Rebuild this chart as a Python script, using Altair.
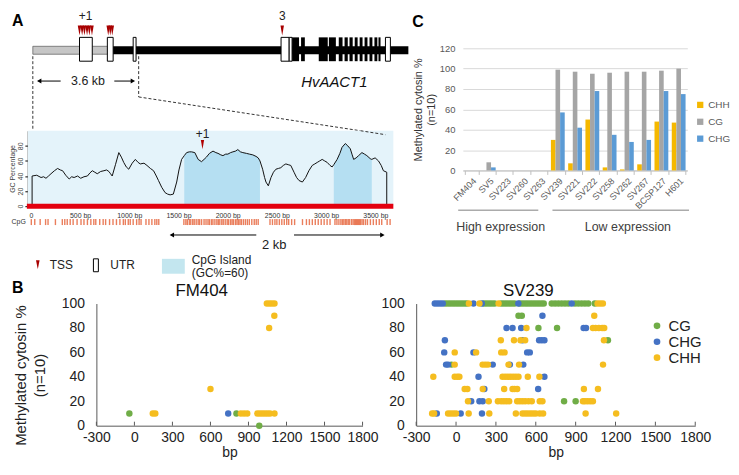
import altair as alt
import pandas as pd

FONT = "Liberation Sans"
one = pd.DataFrame({"k": [0]})

# ---------------- Panel A data ----------------
gene_upstream = [0.0, 2.6]      # kb, grey upstream region
gene_body = [2.6, 12.95]        # kb
utr_start = [1.61, 2.57, 3.46, 8.56, 8.84, 12.16]
utr_end = [2.05, 2.77, 3.56, 8.84, 8.94, 12.33]
cds_start = [8.94, 9.25, 9.86, 10.21, 10.55, 10.75, 10.92, 11.10, 11.27, 11.44, 11.61, 11.78, 11.92]
cds_end = [9.18, 9.38, 10.17, 10.45, 10.68, 10.86, 11.03, 11.20, 11.37, 11.54, 11.71, 11.88, 11.99]
tss_kb = [1.61, 1.70, 1.78, 1.87, 1.95, 2.04, 2.60, 2.67, 2.74, 8.60]
tss_labels = ["+1", "3"]
tss_label_kb = [1.82, 8.60]
zoom_region_kb = [0.0, 3.65]

gc_profile = [(13, 0), (13, 40), (60, 41), (104, 38), (130, 39), (154, 37), (180, 40), (205, 43),
              (240, 47), (272, 50), (300, 48), (323, 47), (355, 41), (390, 36), (415, 39),
              (440, 38), (475, 40), (507, 37), (540, 39), (575, 40), (600, 44), (625, 47),
              (650, 45), (675, 43), (710, 46), (743, 47), (770, 48), (793, 46), (810, 43),
              (827, 40), (860, 55), (894, 71), (920, 65), (944, 58), (970, 52), (995, 49),
              (1030, 57), (1062, 62), (1090, 58), (1112, 56), (1150, 57), (1180, 54),
              (1215, 50), (1247, 47), (1275, 40), (1297, 34), (1330, 25), (1364, 18), (1390, 16),
              (1415, 15), (1448, 16), (1482, 32), (1505, 48), (1532, 62), (1559, 67),
              (1583, 71), (1610, 72), (1633, 72), (1666, 71), (1700, 62), (1734, 59), (1760, 62),
              (1784, 65), (1815, 70), (1851, 73), (1880, 71), (1902, 70), (1930, 68), (1952, 67),
              (1980, 69), (2002, 69), (2030, 71), (2053, 72), (2080, 73), (2103, 75), (2130, 72),
              (2154, 71), (2190, 70), (2221, 69), (2255, 68), (2288, 66), (2310, 64), (2328, 60),
              (2355, 49), (2375, 38), (2389, 32), (2413, 27), (2440, 38), (2465, 45), (2490, 49),
              (2515, 50), (2540, 51), (2565, 54), (2591, 56), (2615, 55), (2641, 54), (2674, 45),
              (2700, 38), (2725, 34), (2759, 32), (2792, 38), (2825, 47), (2859, 54), (2885, 56),
              (2910, 58), (2935, 60), (2960, 62), (2985, 60), (3011, 58), (3040, 54), (3061, 52),
              (3078, 55), (3112, 62), (3140, 70), (3162, 78), (3195, 83), (3220, 80), (3246, 76),
              (3265, 68), (3280, 62), (3305, 64), (3330, 67), (3364, 71), (3390, 69), (3414, 67),
              (3448, 63), (3464, 62), (3498, 64), (3532, 60), (3560, 54), (3582, 47), (3616, 45),
              (3616, 0)]
cpg_islands = [(1559, 2328), (3078, 3464)]
gc_xticks = [0, 500, 1000, 1500, 2000, 2500, 3000, 3500]
gc_yticks = [0, 20, 40, 60, 80]
tss_plus1_bp = [1744]
cpg_sites = [5, 40, 95, 150, 175, 250, 320, 345, 370, 400, 430, 470, 510, 540, 575, 610, 640, 660,
             700, 735, 760, 800, 835, 870, 905, 940, 960, 990, 1010, 1040, 1075, 1100, 1120, 1170,
             1200, 1230, 1260, 1280, 1300, 1555, 1575, 1590, 1610, 1625, 1645, 1660, 1680, 1700,
             1715, 1735, 1760, 1780, 1800, 1815, 1835, 1850, 1870, 1890, 1905, 1920, 1940, 1955,
             1975, 1995, 2010, 2030, 2045, 2060, 2080, 2095, 2110, 2125, 2140, 2160, 2180, 2200,
             2220, 2245, 2270, 2290, 2310, 2430, 2455, 2480, 2500, 2525, 2550, 2575, 2600, 2620,
             2650, 2680, 2760, 2800, 2830, 2860, 2890, 2920, 2950, 2980, 3010, 3040, 3090, 3110,
             3130, 3150, 3165, 3180, 3195, 3210, 3225, 3240, 3260, 3275, 3290, 3300, 3310, 3320,
             3330, 3340, 3350, 3365, 3380, 3400, 3420, 3450, 3480, 3510, 3540, 3565, 3620, 3650]

# ---------------- Panel C data ----------------
lines = ["FM404", "SV5", "SV223", "SV260", "SV263", "SV239", "SV221", "SV222", "SV258",
         "SV262", "SV267", "BCSP127", "H601"]
chh_pct = [0, 0, 0, 0, 0, 30, 7, 50, 3, 1, 6, 48, 47]
cg_pct = [0, 8, 0, 0, 0, 99, 97, 95, 96, 97, 97, 98, 100]
chg_pct = [0, 3, 0, 0, 0, 57, 42, 78, 35, 28, 30, 78, 75]
c_contexts = ["CHH", "CG", "CHG"]
c_colors = ["#f5b800", "#a5a5a5", "#5b9bd5"]
c_yticks = [0, 20, 40, 60, 80, 100, 120]
groups = ["High expression", "Low expression"]
group_x0 = [-0.77, 4.69]
group_x1 = [3.87, 12.6]
group_label_x = [1.69, 9.06]

# ---------------- Panel B data ----------------
b_contexts = ["CG", "CHG", "CHH"]
b_colors = ["#70ad47", "#4472c4", "#f5bd1f"]
b_xticks = [-300, 0, 300, 600, 900, 1200, 1500, 1800]
b_yticks = [0, 20, 40, 60, 80, 100]

fm404_cg = {10: [-40, 805], 0: [985]}
fm404_chg = {10: [740]}
fm404_chh = {10: [145, 165, 840, 865, 890, 970, 990, 1010, 1030, 1050, 1070, 1105],
             30: [600], 80: [1063], 90: [1104], 100: [1045, 1065, 1085, 1105]}

sv239_cg = {100: [-80, -60, -40, -20, 0, 20, 40, 60, 80, 210, 230, 250, 270, 290, 340, 360, 380,
                  400, 420, 440, 480, 500, 520, 540, 560, 580, 600, 620, 640, 660, 720, 745, 770,
                  795, 820, 845, 895, 920, 945, 970, 995, 1044],
            90: [470, 495], 80: [620, 760], 70: [1143], 50: [-35], 20: [813, 900]}
sv239_chg = {100: [-160, -140, -120, -100, 131, 194, 469, 870], 90: [650],
             80: [380, 425, 490, 960, 978], 70: [-84, 500, 625, 645, 665],
             60: [-89, 131, 535, 555], 50: [-75, -60, 276, 405, 506], 40: [169, 665],
             30: [213, 618], 20: [114, 176, 201], 10: [-145, 35, 195]}
sv239_chh = {100: [97, 176, 320, 1065, 1085, 1105], 90: [1040],
             80: [530, 1030, 1050, 1075, 1100, 1115], 70: [337, 436, 485, 520, 1113],
             60: [-10, 151, 340, 365], 50: [-10, 200, 220, 240, 395, 474, 1106],
             40: [-171, -10, 10, 25, 350, 370, 390, 410, 430, 450, 470, 540, 627],
             30: [65, 85, 201, 362, 425, 440, 460, 962, 1068],
             20: [90, 246, 315, 340, 360, 380, 400, 460, 480, 500, 520, 545, 570, 630, 650, 955,
                  970, 990, 1010, 1030],
             10: [-180, -165, -60, -40, -20, 0, 95, 250, 450, 500, 520, 540, 560, 580, 600, 630,
                  655, 975, 1205]}


def anchor(x, y):
    # invisible layout anchor so that nested concat bounds are predictable
    return alt.Chart(one).mark_rule(opacity=0, strokeOpacity=0).encode(
        x=alt.value(x), y=alt.value(y), y2=alt.value(y + 2))


# =============== Panel A : gene model ===============
W_A = 385
kb_scale = alt.Scale(domain=[-0.171, 13.014], nice=False, zero=False)


def kbx(f):
    return alt.X(f, type="quantitative", scale=kb_scale, axis=None)


def kbd(v):
    return alt.XDatum(v, type="quantitative", scale=kb_scale, axis=None)


TRI = "M-0.35,-1L0.35,-1L0,1Z"
DARKRED = "#a80000"

up_df = pd.DataFrame({"s": [gene_upstream[0]], "e": [gene_upstream[1]]})
body_df = pd.DataFrame({"s": [gene_body[0]], "e": [gene_body[1]]})
utr_df = pd.DataFrame({"s": utr_start, "e": utr_end})
cds_df = pd.DataFrame({"s": cds_start, "e": cds_end})
tss_df = pd.DataFrame({"kb": tss_kb})
tlab_df = pd.DataFrame({"kb": tss_label_kb, "t": tss_labels})

g_body = alt.Chart(body_df).mark_rect(fill="black").encode(
    x=kbx("s"), x2="e", y=alt.value(35), y2=alt.value(43))
g_up = alt.Chart(up_df).mark_rect(fill="#c6c6c6", stroke="#555", strokeWidth=0.7).encode(
    x=kbx("s"), x2="e", y=alt.value(35), y2=alt.value(43))
g_cds = alt.Chart(cds_df).mark_rect(fill="black").encode(
    x=kbx("s"), x2="e", y=alt.value(26), y2=alt.value(50))
g_utr = alt.Chart(utr_df).mark_rect(fill="white", stroke="black", strokeWidth=1).encode(
    x=kbx("s"), x2="e", y=alt.value(26), y2=alt.value(50))
g_tss = alt.Chart(tss_df).mark_point(shape=TRI, size=100, filled=True, color=DARKRED,
                                     opacity=1).encode(x=kbx("kb"), y=alt.value(19))
g_tlab = alt.Chart(tlab_df).mark_text(fontSize=12, baseline="middle", color="#222").encode(
    x=kbx("kb"), y=alt.value(5), text="t:N")
g_arr = alt.layer(
    alt.Chart(one).mark_rule(color="black", strokeWidth=1).encode(
        x=kbd(0.2), x2=alt.X2Datum(0.96), y=alt.value(70)),
    alt.Chart(one).mark_rule(color="black", strokeWidth=1).encode(
        x=kbd(2.81), x2=alt.X2Datum(3.45), y=alt.value(70)),
    alt.Chart(one).mark_point(shape="triangle-left", size=26, filled=True, color="black",
                              opacity=1).encode(x=kbd(0.22), y=alt.value(70)),
    alt.Chart(one).mark_point(shape="triangle-right", size=26, filled=True, color="black",
                              opacity=1).encode(x=kbd(3.45), y=alt.value(70)),
    alt.Chart(one).mark_text(fontSize=12.5, baseline="middle", color="#222").encode(
        x=kbd(1.9), y=alt.value(70), text=alt.value("3.6 kb")),
    alt.Chart(one).mark_text(fontSize=15, fontStyle="italic", baseline="middle",
                             color="#111").encode(
        x=kbd(10.4), y=alt.value(71), text=alt.value("HvAACT1")),
)
g_dash = alt.layer(
    alt.Chart(one).mark_rule(color="#333", strokeDash=[3, 2], strokeWidth=1).encode(
        x=kbd(zoom_region_kb[0]), y=alt.value(45), y2=alt.value(120)),
    alt.Chart(one).mark_rule(color="#333", strokeDash=[3, 2], strokeWidth=1).encode(
        x=kbd(zoom_region_kb[1]), y=alt.value(45), y2=alt.value(86)),
    alt.Chart(one).mark_rule(color="#333", strokeDash=[3, 2], strokeWidth=1).encode(
        x=kbd(zoom_region_kb[1]), x2=alt.X2Datum(11.29), y=alt.value(86), y2=alt.value(120)),
)
g_letter = alt.Chart(one).mark_text(fontSize=16, fontWeight="bold", align="left",
                                    baseline="alphabetic", color="black").encode(
    x=alt.value(-16), y=alt.value(15), text=alt.value("A"))

geneA = alt.layer(anchor(-18, -2), g_dash, g_body, g_up, g_cds, g_utr, g_tss, g_tlab, g_arr,
                  g_letter).properties(width=W_A, height=120)

# =============== Panel A : GC profile ===============
W_GC, H_GC = 368, 76
bp_scale = alt.Scale(domain=[-30, 3683], nice=False, zero=False)
gc_scale = alt.Scale(domain=[0, 100], nice=False, zero=True)
bp_axis = alt.Axis(values=gc_xticks, labelExpr="datum.value == 0 ? '0' : datum.value + ' bp'",
                   domain=False, ticks=False, grid=False, labelFontSize=7, labelColor="#333",
                   labelPadding=5, labelFlush=False, labelOverlap=False, title=None)
gc_axis = alt.Axis(values=gc_yticks, title="GC Percentage", titleFontSize=7,
                   titleFontWeight="normal", titleColor="#444", titlePadding=1,
                   labelFontSize=7, labelColor="#444", labelAngle=-90, labelAlign="center",
                   labelBaseline="bottom", labelPadding=1, tickSize=3, tickColor="black",
                   domainColor="black", domainWidth=1.2, grid=False, labelFlush=False,
                   labelOverlap=False)


def bpx(f):
    return alt.X(f, type="quantitative", scale=bp_scale, axis=bp_axis)


def gcy(f):
    return alt.Y(f, type="quantitative", scale=gc_scale, axis=gc_axis)


gc_df = pd.DataFrame(gc_profile, columns=["bp", "gc"])

gc_bg = alt.Chart(one).mark_rect(color="#e4f3fa").encode(
    x=alt.value(0), x2=alt.value(W_GC), y=alt.value(0), y2=alt.value(H_GC))
island_layers = []
for s, e in cpg_islands:
    idf = pd.DataFrame([(bp, gc) for bp, gc in gc_profile if s <= bp <= e and gc > 0],
                       columns=["bp", "gc"])
    island_layers.append(alt.Chart(idf).mark_area(color="#b5dff2", opacity=1).encode(
        x=bpx("bp"), y=gcy("gc"), y2=alt.value(H_GC)))
gc_line = alt.Chart(gc_df).mark_line(color="#111", strokeWidth=1).encode(
    x=bpx("bp"), y=gcy("gc"), order=alt.value(0))
gc_red = alt.Chart(one).mark_rule(color="#e3000f", strokeWidth=5).encode(
    x=alt.value(-1), x2=alt.value(W_GC), y=alt.value(H_GC))
p1_df = pd.DataFrame({"bp": tss_plus1_bp, "t": ["+1"]})
gc_tss = alt.Chart(p1_df).mark_point(shape=TRI, size=90, filled=True, color="#b00000",
                                     opacity=1).encode(x=bpx("bp"), y=alt.value(14))
gc_tlab = alt.Chart(p1_df).mark_text(fontSize=12, baseline="middle", color="#222").encode(
    x=bpx("bp"), y=alt.value(3), text="t:N")
gc_dash = alt.Chart(one).mark_rule(color="#333", strokeDash=[3, 2], strokeWidth=1).encode(
    x=alt.XDatum(3350, type="quantitative", scale=bp_scale, axis=bp_axis),
    x2=alt.X2Datum(3602), y=alt.value(0), y2=alt.value(4))

gcv = alt.layer(gc_bg, *island_layers, gc_line, gc_red, gc_tss, gc_tlab, gc_dash).properties(
    width=W_GC, height=H_GC)

# CpG track
cpg_df = pd.DataFrame({"bp": cpg_sites})
cpg_ticks = alt.Chart(cpg_df).mark_rule(color="#e8704a", strokeWidth=1.4, opacity=0.9).encode(
    x=alt.X("bp:Q", scale=bp_scale, axis=None), y=alt.value(13), y2=alt.value(19))
cpg_lab = alt.Chart(one).mark_text(fontSize=7, align="right", baseline="middle",
                                   color="#333").encode(
    x=alt.value(-2), y=alt.value(16), text=alt.value("CpG"))
cpgv = alt.layer(cpg_ticks, cpg_lab).properties(width=W_GC, height=22)

# 2 kb arrow + legend
legA = alt.layer(
    alt.Chart(one).mark_rule(color="black").encode(x=alt.value(144), x2=alt.value(230), y=alt.value(7)),
    alt.Chart(one).mark_rule(color="black").encode(x=alt.value(268), x2=alt.value(357), y=alt.value(7)),
    alt.Chart(one).mark_point(shape="triangle-left", size=26, filled=True, color="black",
                              opacity=1).encode(x=alt.value(145), y=alt.value(7)),
    alt.Chart(one).mark_point(shape="triangle-right", size=26, filled=True, color="black",
                              opacity=1).encode(x=alt.value(357), y=alt.value(7)),
    alt.Chart(one).mark_text(fontSize=13, baseline="middle", color="#222").encode(
        x=alt.value(248), y=alt.value(17), text=alt.value("2 kb")),
    alt.Chart(one).mark_point(shape="M-0.4,-1L0.4,-1L0,1Z", size=81, filled=True,
                              color=DARKRED, opacity=1).encode(x=alt.value(10), y=alt.value(37)),
    alt.Chart(one).mark_text(fontSize=12, align="left", baseline="middle", color="#222").encode(
        x=alt.value(22), y=alt.value(37), text=alt.value("TSS")),
    alt.Chart(one).mark_rect(fill="white", stroke="black", strokeWidth=1).encode(
        x=alt.value(66), x2=alt.value(71), y=alt.value(31), y2=alt.value(44)),
    alt.Chart(one).mark_text(fontSize=12, align="left", baseline="middle", color="#222").encode(
        x=alt.value(83), y=alt.value(37), text=alt.value("UTR")),
    alt.Chart(one).mark_rect(fill="#c3e6ef").encode(
        x=alt.value(135), x2=alt.value(158), y=alt.value(31), y2=alt.value(46)),
    alt.Chart(one).mark_text(fontSize=12, align="left", baseline="middle", color="#222").encode(
        x=alt.value(165), y=alt.value(32), text=alt.value("CpG Island")),
    alt.Chart(one).mark_text(fontSize=12, align="left", baseline="middle", color="#222").encode(
        x=alt.value(165), y=alt.value(45), text=alt.value("(GC%=60)")),
).properties(width=W_GC, height=51)

colA = alt.vconcat(geneA, gcv, cpgv, legA, spacing=0, bounds="flush")

# =============== Panel C ===============
W_C = 226
c_rows = []
for i, ln in enumerate(lines):
    c_rows.append({"line": ln, "ctx": "CHH", "pct": chh_pct[i]})
    c_rows.append({"line": ln, "ctx": "CG", "pct": cg_pct[i]})
    c_rows.append({"line": ln, "ctx": "CHG", "pct": chg_pct[i]})
c_df = pd.DataFrame(c_rows)

cbar = alt.Chart(c_df).mark_bar().encode(
    x=alt.X("line:N", sort=lines,
            scale=alt.Scale(paddingInner=0.2, paddingOuter=0.1),
            axis=alt.Axis(title=None, labelAngle=-45, labelFontSize=9, labelColor="#595959",
                          domainColor="#bfbfbf", tickColor="#bfbfbf", tickSize=4,
                          tickBand="extent", labelPadding=2)),
    xOffset=alt.XOffset("ctx:N", sort=c_contexts, scale=alt.Scale(domain=c_contexts)),
    y=alt.Y("pct:Q", scale=alt.Scale(domain=[0, 120], nice=False),
            axis=alt.Axis(values=c_yticks, title=["Methylated cytosin %", "(n=10)"],
                          titleFontSize=11, titleFontWeight="normal", titleColor="#333",
                          titleLineHeight=12.5, titlePadding=3, labelFontSize=9.5,
                          labelColor="#595959", labelPadding=8, domain=False, ticks=False,
                          gridColor="#d9d9d9")),
    color=alt.Color("ctx:N", scale=alt.Scale(domain=c_contexts, range=c_colors),
                    legend=alt.Legend(orient="none", legendX=234, legendY=52, title=None,
                                      symbolType="square", symbolSize=40, labelFontSize=10,
                                      labelColor="#595959", rowPadding=7, padding=0,
                                      labelOffset=3)),
).properties(width=W_C, height=123)

spC = alt.layer(
    anchor(-53, -2),
    alt.Chart(one).mark_text(fontSize=16, fontWeight="bold", align="left",
                             baseline="alphabetic", color="black").encode(
        x=alt.value(-51), y=alt.value(16), text=alt.value("C")),
).properties(width=W_C, height=37)

grp_df = pd.DataFrame({"g": groups, "x0": group_x0, "x1": group_x1, "lx": group_label_x})
grp_scale = alt.Scale(domain=[-0.5, 12.5], nice=False, zero=False)
cgrp = alt.layer(
    alt.Chart(grp_df).mark_rule(color="#808080", strokeWidth=1).encode(
        x=alt.X("x0:Q", scale=grp_scale, axis=None), x2="x1", y=alt.value(40)),
    alt.Chart(grp_df).mark_text(fontSize=12.5, baseline="middle", color="#404040").encode(
        x=alt.X("lx:Q", scale=grp_scale, axis=None), y=alt.value(57), text="g:N"),
).properties(width=W_C, height=64)

colC = alt.vconcat(spC, cbar, cgrp, spacing=0, bounds="flush").resolve_scale(color="independent")

# =============== Panel B ===============
H_B = 123


def b_rows(d, ctx):
    return [{"bp": bp, "pct": pct, "ctx": ctx} for pct, bps in d.items() for bp in bps]


def b_panel(title, title_x, cg, chg, chh, width, show_ytitle, show_legend):
    df = pd.DataFrame(b_rows(cg, "CG") + b_rows(chg, "CHG") + b_rows(chh, "CHH"))
    xs = alt.Scale(domain=[-300, 1800], nice=False, zero=False)
    ys = alt.Scale(domain=[0, 100], nice=False)
    xax = alt.Axis(values=b_xticks, labelExpr="'' + datum.value", title="bp",
                   titleFontSize=14, titleFontWeight="normal", titleColor="#222",
                   labelFontSize=14, labelColor="#222", domainColor="#595959", ticks=False,
                   grid=False, labelPadding=5, titlePadding=1, labelFlush=False,
                   labelOverlap=False)
    yax = alt.Axis(values=b_yticks,
                   title=["Methylated cytosin %", "(n=10)"] if show_ytitle else None,
                   titleFontSize=15, titleFontWeight="normal", titleColor="#222",
                   titleLineHeight=19, titlePadding=14, titleY=72, labelFontSize=14,
                   labelColor="#222", domainColor="#595959", ticks=False, grid=False,
                   labelPadding=12, labelFlush=False, labelOverlap=False)
    leg = None
    if show_legend:
        leg = alt.Legend(orient="none", legendX=235, legendY=15, title=None, labelFontSize=15,
                         symbolType="circle", symbolSize=45, rowPadding=0, padding=0,
                         labelColor="#222", labelOffset=4)
    ticks = alt.Chart(pd.DataFrame({"t": b_xticks})).mark_rule(color="#595959").encode(
        x=alt.X("t:Q", scale=xs, axis=xax), y=alt.value(H_B), y2=alt.value(H_B - 4))
    pts = alt.Chart(df).mark_circle(size=42, opacity=1).encode(
        x=alt.X("bp:Q", scale=xs, axis=xax),
        y=alt.Y("pct:Q", scale=ys, axis=yax),
        color=alt.Color("ctx:N", scale=alt.Scale(domain=b_contexts, range=b_colors), legend=leg),
    )
    ttl = alt.Chart(one).mark_text(fontSize=17, baseline="alphabetic", color="#111").encode(
        x=alt.value(title_x), y=alt.value(-8), text=alt.value(title))
    return alt.layer(ticks, pts, ttl).properties(width=width, height=H_B)


b1 = b_panel("FM404", 106, fm404_cg, fm404_chg, fm404_chh, 268, True, False)
b2 = b_panel("SV239", 113, sv239_cg, sv239_chg, sv239_chh, 281, False, True)
spB = alt.layer(
    anchor(-18, -24),
    alt.Chart(one).mark_text(fontSize=16, fontWeight="bold", align="left",
                             baseline="alphabetic", color="black").encode(
        x=alt.value(-16), y=alt.value(-11), text=alt.value("B")),
).properties(width=15, height=H_B)

row1 = alt.hconcat(colA, colC, spacing=0).resolve_scale(color="independent")
row2 = alt.hconcat(spB, b1, b2, spacing=54, bounds="flush").resolve_scale(
    color="independent").resolve_legend(color="independent")

chart = alt.vconcat(row1, row2, spacing=1).resolve_scale(
    color="independent").resolve_legend(color="independent").properties(
    padding=0, background="white").configure(font=FONT).configure_view(stroke=None)

chart.save("out.html", embed_options={"renderer": "svg", "actions": False})
